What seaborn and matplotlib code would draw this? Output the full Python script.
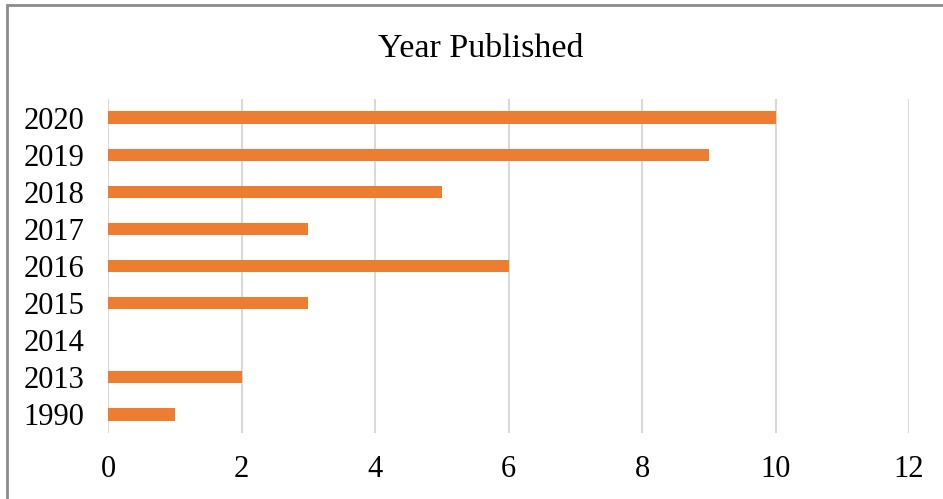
import matplotlib
matplotlib.use("Agg")
import matplotlib.pyplot as plt
from matplotlib.patches import Rectangle
import seaborn as sns
import pandas as pd

years = ["2020", "2019", "2018", "2017", "2016", "2015", "2014", "2013", "1990"]
counts = [10, 9, 5, 3, 6, 3, 0, 2, 1]
x_ticks = [0, 2, 4, 6, 8, 10, 12]

df = pd.DataFrame({"year": years, "count": counts})

sns.set_style("white")
plt.rcParams["font.family"] = ["Liberation Serif", "DejaVu Serif"]

W, H = 943, 499
fig = plt.figure(figsize=(W / 100, H / 100), dpi=100)
ax = fig.add_axes([108 / W, 1 - 433 / H, (909 - 108) / W, (433 - 99) / H])

sns.barplot(data=df, x="count", y="year", order=years, orient="h",
            color="#ED7D31", saturation=1, width=0.33, linewidth=0, ax=ax)

ax.set_xlim(0, 12)
ax.set_xticks(x_ticks)
ax.set_xticklabels([str(t) for t in x_ticks])
ax.set_xlabel("")
ax.set_ylabel("")
ax.xaxis.grid(True, color="#d9d9d9", linewidth=1.5)
ax.set_axisbelow(True)
for s in ax.spines.values():
    s.set_visible(False)
ax.tick_params(axis="both", length=0, labelsize=22, colors="black")
ax.tick_params(axis="y", pad=17)
ax.tick_params(axis="x", pad=16)

fig.text(481 / W, 1 - 49 / H, "Year Published", ha="center", va="center",
         fontsize=24.5, color="black")

# chart frame
fig.patches.append(Rectangle((7 / W, -0.2), 1.5, 1 - 5 / H + 0.2,
                             transform=fig.transFigure, fill=False,
                             edgecolor="#8c8c8c", linewidth=2))

fig.savefig("out.png", dpi=100, facecolor="white")
